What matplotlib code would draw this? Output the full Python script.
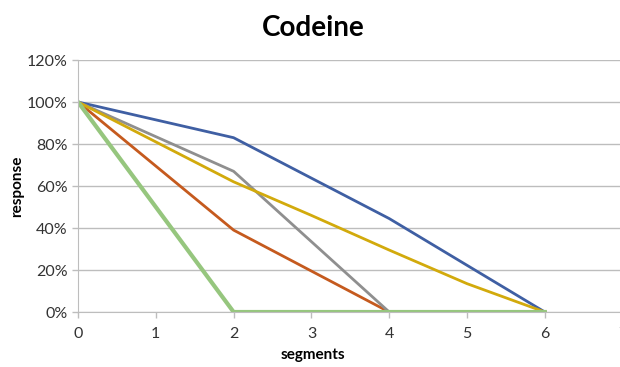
import matplotlib
matplotlib.use("Agg")
import matplotlib.pyplot as plt
from matplotlib.ticker import PercentFormatter

# segments on x, response (%) on y
seg_even = [0, 2, 4, 6]
seg_all = [0, 1, 2, 3, 4, 5, 6]

blue = [100, 83, 44.5, 0]
orange = [100, 39, 0, 0]
gray = [100, 67, 0, 0]
yellow = [100, 81, 62, 46, 29.5, 13.5, 0]
green = [100, 0, 0, 0]

plt.rcParams['font.family'] = ['Lato', 'DejaVu Sans']

fig = plt.figure(figsize=(6.2, 3.67), dpi=100)
# axes runs past the right edge like the cropped original
ax = fig.add_axes([78 / 620, 55 / 367, 8 * 77.8 / 620, 252 / 367])

ax.plot(seg_even, blue, color='#3F5FA3', lw=2, solid_joinstyle='round')
ax.plot(seg_even, orange, color='#C55A1E', lw=2, solid_joinstyle='round')
ax.plot(seg_even, gray, color='#8F8F8F', lw=2, solid_joinstyle='round')
ax.plot(seg_all, yellow, color='#D2AA0C', lw=2, solid_joinstyle='round')
ax.plot(seg_even, green, color='#96C67E', lw=3, solid_joinstyle='round')

ax.set_xlim(0, 8)
ax.set_ylim(0, 120)
ax.set_xticks(range(0, 9))
ax.set_yticks(range(0, 121, 20))
ax.yaxis.set_major_formatter(PercentFormatter(decimals=0))

ax.grid(axis='y', color='#BDBDBD', lw=1)
ax.set_axisbelow(True)
for s in ['top', 'right']:
    ax.spines[s].set_visible(False)
for s in ['left', 'bottom']:
    ax.spines[s].set_color('#BDBDBD')
ax.tick_params(colors='#BDBDBD', length=4, width=1, labelsize=11.5, labelcolor='#333333')
ax.tick_params(axis='x', pad=7)

ax.set_xlabel('segments', fontweight='bold', fontsize=11)
ax.xaxis.set_label_coords((313 - 78) / (8 * 77.8), -36 / 252)
ax.set_ylabel('response', fontweight='bold', fontsize=11)
ax.yaxis.set_label_coords(-54 / 622, 0.5)
fig.text(313 / 620, 1 - 28 / 367, 'Codeine', ha='center', va='center',
         fontsize=20, fontweight='bold')

fig.savefig('out.png', dpi=100)
